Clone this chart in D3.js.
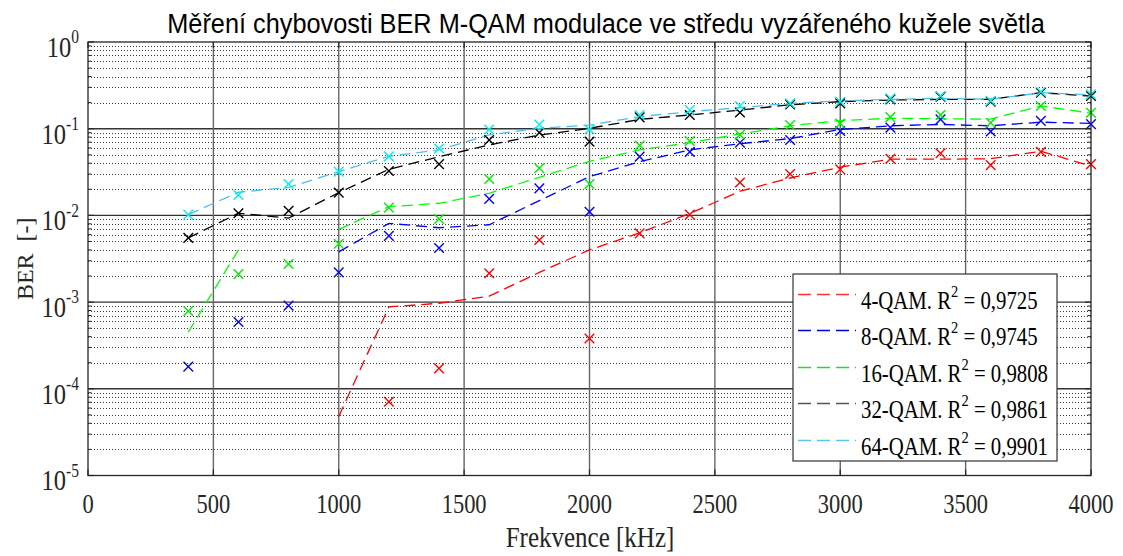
<!DOCTYPE html>
<html>
<head>
<meta charset="utf-8">
<script src="https://d3js.org/d3.v7.min.js"></script>
<style>
  html, body { margin: 0; padding: 0; background: #fff; }
  svg { display: block; }
</style>
</head>
<body>
<svg id="chart" width="1123" height="556"></svg>
<script>
// ---------------- DATA ----------------
const freq = [400, 600, 800, 1000, 1200, 1400, 1600, 1800, 2000, 2200, 2400, 2600, 2800, 3000, 3200, 3400, 3600, 3800, 4000];

// measured BER (markers)
const ber4  = [null, null, null, null, 7.1e-5, 1.72e-4, 2.15e-3, 5.2e-3, 3.8e-4, 6.2e-3, 1.02e-2, 2.4e-2, 3.0e-2, 3.4e-2, 4.5e-2, 5.2e-2, 3.8e-2, 5.4e-2, 3.9e-2];
const ber8  = [1.8e-4, 5.9e-4, 9.1e-4, 2.2e-3, 5.8e-3, 4.2e-3, 1.55e-2, 2.05e-2, 1.1e-2, 4.76e-2, 5.4e-2, 6.9e-2, 7.4e-2, 9.4e-2, 1.03e-1, 1.28e-1, 9.3e-2, 1.23e-1, 1.13e-1];
const ber16 = [7.9e-4, 2.1e-3, 2.75e-3, 4.7e-3, 1.23e-2, 9.1e-3, 2.63e-2, 3.5e-2, 2.3e-2, 6.4e-2, 7.2e-2, 8.5e-2, 1.1e-1, 1.15e-1, 1.36e-1, 1.44e-1, 1.17e-1, 1.83e-1, 1.53e-1];
const ber32 = [5.5e-3, 1.06e-2, 1.13e-2, 1.83e-2, 3.25e-2, 3.9e-2, 7.4e-2, 9.0e-2, 7.1e-2, 1.35e-1, 1.44e-1, 1.54e-1, 1.9e-1, 1.96e-1, 2.18e-1, 2.34e-1, 2.05e-1, 2.6e-1, 2.38e-1];
const ber64 = [1.02e-2, 1.72e-2, 2.3e-2, 3.2e-2, 4.8e-2, 5.9e-2, 9.8e-2, 1.12e-1, 9.8e-2, 1.44e-1, 1.64e-1, 1.83e-1, 1.96e-1, 2.05e-1, 2.24e-1, 2.38e-1, 2.1e-1, 2.67e-1, 2.49e-1];

// fitted curves (dashed)
const fit4  = [null, null, null, 4.8e-5, 8.8e-4, 9.7e-4, 1.17e-3, 2.2e-3, 4.0e-3, 6.3e-3, 1.05e-2, 1.9e-2, 2.7e-2, 3.6e-2, 4.45e-2, 4.45e-2, 4.5e-2, 5.5e-2, 3.7e-2];
const fit8  = [null, null, null, 3.8e-3, 8.1e-3, 7.2e-3, 7.8e-3, 1.48e-2, 2.8e-2, 4.16e-2, 5.7e-2, 6.7e-2, 7.7e-2, 9.8e-2, 1.08e-1, 1.12e-1, 1.08e-1, 1.19e-1, 1.15e-1];
const fit16 = [4.5e-4, 4.0e-3, null, 6.9e-3, 1.26e-2, 1.38e-2, 1.8e-2, 2.75e-2, 4.2e-2, 5.7e-2, 6.9e-2, 8.7e-2, 1.08e-1, 1.24e-1, 1.32e-1, 1.3e-1, 1.29e-1, 1.83e-1, 1.51e-1];
const fit32 = [5.5e-3, 1.06e-2, 9.3e-3, 1.83e-2, 3.4e-2, 4.75e-2, 6.5e-2, 8.45e-2, 1.01e-1, 1.28e-1, 1.44e-1, 1.64e-1, 1.89e-1, 2.05e-1, 2.14e-1, 2.18e-1, 2.18e-1, 2.6e-1, 2.38e-1];
const fit64 = [1.02e-2, 1.85e-2, 2.1e-2, 3.2e-2, 4.8e-2, 5.7e-2, 8.5e-2, 1.01e-1, 1.1e-1, 1.38e-1, 1.57e-1, 1.75e-1, 1.96e-1, 2.09e-1, 2.18e-1, 2.24e-1, 2.18e-1, 2.6e-1, 2.45e-1];

const seriesNames = ["4-QAM", "8-QAM", "16-QAM", "32-QAM", "64-QAM"];
const rSquared = ["0,9725", "0,9745", "0,9808", "0,9861", "0,9901"];
const xTicks = [0, 500, 1000, 1500, 2000, 2500, 3000, 3500, 4000];
const yExponents = [0, -1, -2, -3, -4, -5];

const titleText = "Měření chybovosti BER M-QAM modulace ve středu vyzářeného kužele světla";
const xLabel = "Frekvence [kHz]";
const yLabel = "BER";
const yUnit = "[-]";

// ---------------- STYLE ----------------
const markerColors = ["#ff0000", "#0000ff", "#00ee00", "#000000", "#00f0f0"];
const lineColors   = ["#ff0000", "#0000ff", "#00ff00", "#000000", "#4dbeee"];
const legendLineColors = ["#ff3333", "#0000dd", "#22dd22", "#555555", "#5ac6f0"];
const markers = [ber4, ber8, ber16, ber32, ber64];
const fits = [fit4, fit8, fit16, fit32, fit64];

const SERIF = "'Liberation Serif', 'Times New Roman', Times, serif";
const SANS = "'Liberation Sans', Arial, Helvetica, sans-serif";
const VS = 1.22; // vertical stretch of horizontal texts

const svg = d3.select("#chart");
const L = 88, R = 1091, T = 42, B = 475.5;

const x = d3.scaleLinear().domain([0, 4000]).range([L, R]);
const y = d3.scaleLog().domain([1e-5, 1]).range([B, T]);

function sText(parent, px, py, anchor, size, family, parts, fill, vs) {
  const g = parent.append("g").attr("transform", `translate(${px},${py}) scale(1,${vs || VS})`);
  const t = g.append("text").attr("x", 0).attr("y", 0)
    .attr("text-anchor", anchor).attr("font-family", family)
    .attr("font-size", size).attr("fill", fill || "#000");
  parts.forEach(p => {
    const ts = t.append("tspan").text(p.t);
    if (p.sup) {
      ts.attr("font-size", p.size).attr("dy", -p.rise);
    } else if (p.drop) {
      ts.attr("dy", p.drop);
    }
  });
  return t;
}

// ---------------- GRID ----------------
const grid = svg.append("g");
const minorVals = [];
for (let e = -5; e < 0; e++) for (let k = 2; k <= 9; k++) minorVals.push(k * Math.pow(10, e));
grid.selectAll("line.minor").data(minorVals).enter().append("line")
  .attr("x1", L).attr("x2", R)
  .attr("y1", d => Math.round(y(d)) + 0.5).attr("y2", d => Math.round(y(d)) + 0.5)
  .attr("stroke", "#3a3a3a").attr("stroke-width", 1)
  .attr("stroke-dasharray", "1,2");

grid.selectAll("line.hmaj").data(yExponents.slice(1, -1)).enter().append("line")
  .attr("x1", L).attr("x2", R)
  .attr("y1", d => y(Math.pow(10, d))).attr("y2", d => y(Math.pow(10, d)))
  .attr("stroke", "#333").attr("stroke-width", 1.4);

grid.selectAll("line.vmaj").data(xTicks.slice(1, -1)).enter().append("line")
  .attr("x1", d => x(d)).attr("x2", d => x(d))
  .attr("y1", T).attr("y2", B)
  .attr("stroke", "#666").attr("stroke-width", 1.4);

// ---------------- FIT LINES ----------------
const lineGen = d3.line()
  .defined(d => d.v != null)
  .x(d => x(d.f)).y(d => y(d.v));

fits.forEach((arr, i) => {
  svg.append("path")
    .datum(freq.map((f, j) => ({ f: f, v: arr[j] })))
    .attr("d", lineGen)
    .attr("fill", "none")
    .attr("stroke", lineColors[i])
    .attr("stroke-width", 1.3)
    .attr("stroke-dasharray", "11,6");
});

// ---------------- MARKERS ----------------
const ms = 4.8;
markers.forEach((arr, i) => {
  const pts = freq.map((f, j) => ({ f: f, v: arr[j] })).filter(d => d.v != null);
  const g = svg.append("g");
  g.selectAll("path").data(pts).enter().append("path")
    .attr("d", d => {
      const cx = x(d.f), cy = y(d.v);
      return `M${cx - ms},${cy - ms}L${cx + ms},${cy + ms}M${cx - ms},${cy + ms}L${cx + ms},${cy - ms}`;
    })
    .attr("stroke", markerColors[i]).attr("stroke-width", 1.4).attr("fill", "none");
});

// ---------------- AXES FRAME & TICKS ----------------
const frame = svg.append("g");
frame.append("rect").attr("x", L).attr("y", T).attr("width", R - L).attr("height", B - T)
  .attr("fill", "none").attr("stroke", "#262626").attr("stroke-width", 1.3);

xTicks.forEach(v => {
  frame.append("line").attr("x1", x(v)).attr("x2", x(v)).attr("y1", B).attr("y2", B - 6)
    .attr("stroke", "#262626").attr("stroke-width", 1.2);
  frame.append("line").attr("x1", x(v)).attr("x2", x(v)).attr("y1", T).attr("y2", T + 6)
    .attr("stroke", "#262626").attr("stroke-width", 1.2);
});
yExponents.forEach(e => {
  const yy = y(Math.pow(10, e));
  frame.append("line").attr("x1", L).attr("x2", L + 6).attr("y1", yy).attr("y2", yy)
    .attr("stroke", "#262626").attr("stroke-width", 1.2);
  frame.append("line").attr("x1", R).attr("x2", R - 6).attr("y1", yy).attr("y2", yy)
    .attr("stroke", "#262626").attr("stroke-width", 1.2);
});
minorVals.forEach(v => {
  const yy = y(v);
  frame.append("line").attr("x1", L).attr("x2", L + 3.5).attr("y1", yy).attr("y2", yy)
    .attr("stroke", "#262626").attr("stroke-width", 1);
  frame.append("line").attr("x1", R).attr("x2", R - 3.5).attr("y1", yy).attr("y2", yy)
    .attr("stroke", "#262626").attr("stroke-width", 1);
});

// ---------------- TICK LABELS ----------------
xTicks.forEach(v => {
  sText(svg, x(v), 513, "middle", 22.5, SERIF, [{ t: String(v) }], "#262626");
});
yExponents.forEach(e => {
  const yy = y(Math.pow(10, e));
  sText(svg, 79, yy + 14.8, "end", 24.5, SERIF,
    [{ t: "10" }, { t: String(e), sup: true, size: 15.5, rise: 11 }], "#262626");
});

// ---------------- TITLE & LABELS ----------------
sText(svg, 606, 33, "middle", 25.3, SANS, [{ t: titleText }], "#000", 1.12);
sText(svg, 590, 547, "middle", 25, SERIF, [{ t: xLabel }], "#262626", 1.15);

const yl = svg.append("text")
  .attr("transform", `translate(33, ${(T + B) / 2}) rotate(-90)`)
  .attr("text-anchor", "middle")
  .attr("font-family", SERIF).attr("font-size", 24).attr("fill", "#262626");
yl.append("tspan").text(yLabel);
yl.append("tspan").attr("dx", 12).text(yUnit);

// ---------------- LEGEND ----------------
const lg = svg.append("g");
const lx0 = 793, ly0 = 274, lx1 = 1057, ly1 = 461;
lg.append("rect").attr("x", lx0).attr("y", ly0).attr("width", lx1 - lx0).attr("height", ly1 - ly0)
  .attr("fill", "#fff").attr("stroke", "#333").attr("stroke-width", 1.2);

seriesNames.forEach((name, i) => {
  const cy = Math.round(293.5 + i * 36.6) + 0.5;
  lg.append("line").attr("x1", 798).attr("x2", 856).attr("y1", cy).attr("y2", cy)
    .attr("stroke", legendLineColors[i]).attr("stroke-width", 1.4)
    .attr("stroke-dasharray", "13,6");
  sText(lg, 861, cy + 14.5, "start", 20.8, SERIF,
    [{ t: name + ". R" },
     { t: "2", sup: true, size: 14.5, rise: 9.5 },
     { t: " = " + rSquared[i], drop: 9.5 }], "#000");
});
</script>
</body>
</html>
